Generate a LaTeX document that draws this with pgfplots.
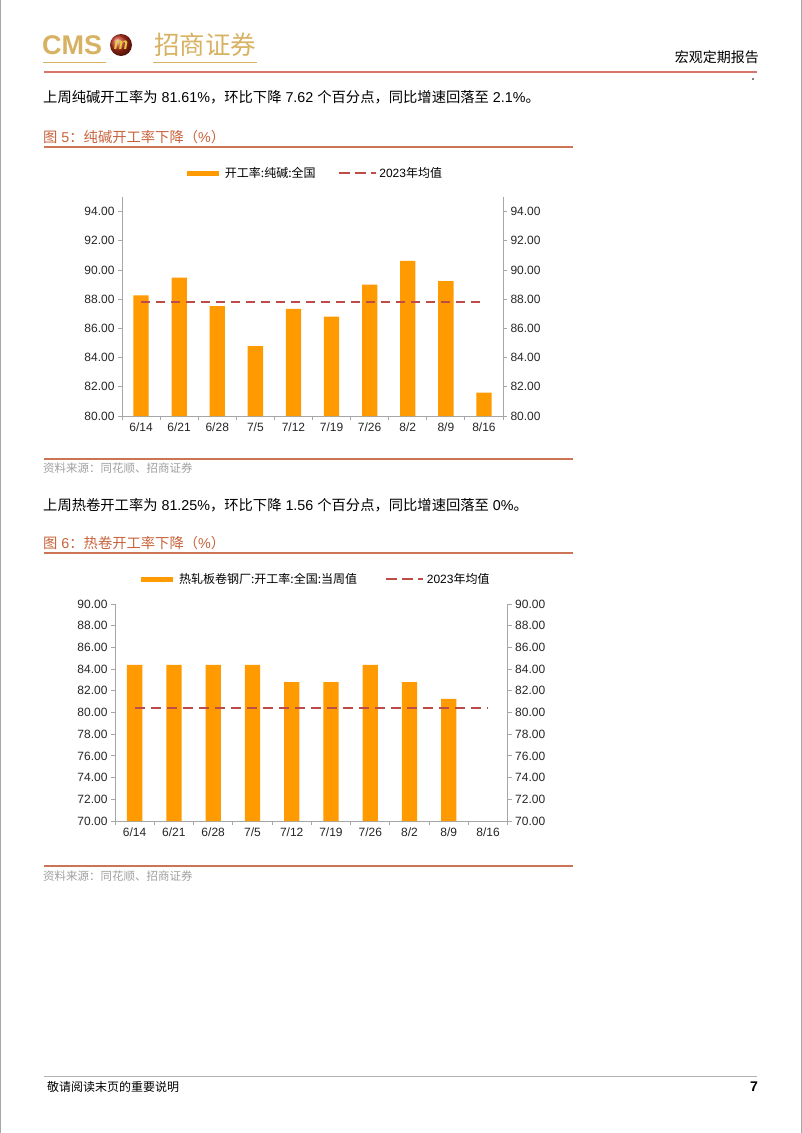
\documentclass[border=0pt]{standalone}
\usepackage{fontspec}
\setmainfont{Liberation Sans}
\newfontfamily\cjk{Noto Sans CJK SC}
\usepackage{pgfplots}
\pgfplotsset{compat=1.18}
\definecolor{barorange}{HTML}{FF9A00}
\definecolor{meanred}{HTML}{BE4B48}
\definecolor{axisgray}{HTML}{A6A6A6}
\definecolor{gold}{HTML}{D8B263}
\definecolor{logored}{HTML}{C0301A}
\definecolor{headred}{HTML}{D8766A}
\definecolor{titlecol}{HTML}{C8643C}
\definecolor{titleline}{HTML}{CC7455}
\definecolor{srcgray}{HTML}{A0A0A0}

\pgfplotsset{
  leftax/.style={
    scale only axis, anchor=south west,
    xmin=-0.5, xmax=9.5,
    axis x line*=bottom, axis y line*=left,
    axis line style={draw=axisgray, line width=0.9pt},
    tick align=outside,
    major tick length=4pt, minor tick length=4pt,
    every tick/.style={draw=axisgray, line width=0.9pt},
    xtick={0,...,9},
    xticklabels={6/14,6/21,6/28,7/5,7/12,7/19,7/26,8/2,8/9,8/16},
    major x tick style={draw=none},
    minor xtick={-0.5,0.5,...,9.5},
    xticklabel style={yshift=1pt},
    ticklabel style={font=\fontsize{12}{14}\selectfont, text=black!85},
    /pgf/number format/assume math mode=true,
    yticklabel style={/pgf/number format/fixed, /pgf/number format/fixed zerofill, /pgf/number format/precision=2},
    legend columns=2,
    legend cell align=left,
    legend style={draw=none, fill=none, at={(0.5,1)}, anchor=center,
      font=\fontsize{12}{14}\selectfont, inner sep=0pt},
  },
  rightax/.style={
    scale only axis, anchor=south west,
    xmin=-0.5, xmax=9.5,
    axis x line=none, axis y line*=right,
    axis line style={draw=axisgray, line width=0.9pt},
    tick align=outside, major tick length=4pt,
    every tick/.style={draw=axisgray, line width=0.9pt},
    ticklabel style={font=\fontsize{12}{14}\selectfont, text=black!85},
    /pgf/number format/assume math mode=true,
    yticklabel style={/pgf/number format/fixed, /pgf/number format/fixed zerofill, /pgf/number format/precision=2},
  },
  barleg/.style={legend image code/.code={\fill[barorange] (0pt,-2.5pt) rectangle (32pt,2.5pt); \path (36pt,0pt);}},
  meanleg/.style={legend image code/.code={\draw[meanred, line width=2.2pt, dash pattern=on 11pt off 5pt] (0pt,0pt) -- (37pt,0pt); \path (37.5pt,0pt);}},
}

\begin{document}
\begin{tikzpicture}[x=1pt,y=1pt]
\path[use as bounding box] (0,0) rectangle (802,-1133);
\fill[white] (0,0) rectangle (802,-1133);
\draw[gray!70, line width=1pt] (0.5,0) -- (0.5,-1133);
\draw[gray!70, line width=1pt] (801.5,0) -- (801.5,-1133);
\coordinate (c1) at (122,-416);
\coordinate (c2) at (115,-821);

% header
\node[anchor=west, text=gold, font=\bfseries\fontsize{27}{28}\selectfont, inner sep=0pt] at (42,-45) {CMS};
\shade[ball color=logored] (121,-45) circle (11);
\node[text=gold!70!yellow, font=\bfseries\itshape\fontsize{16}{16}\selectfont] at (121,-45.5) {m};
\node[anchor=west, text=gold, font=\cjk\fontsize{25.5}{27}\selectfont, inner sep=0pt] at (154,-45) {招商证券};
\draw[gold, line width=1.5pt] (43,-62.5) -- (106,-62.5);
\draw[gold, line width=1.5pt] (153,-62.5) -- (257,-62.5);
\node[anchor=east, font=\cjk\fontsize{14}{16}\selectfont, inner sep=0pt] at (759,-57) {宏观定期报告};
\draw[headred, line width=1.2pt] (44,-72) -- (757,-72);
\fill (753,-79) circle (0.8);

% text 1
\node[anchor=west, font=\fontsize{14.3}{16}\selectfont, inner sep=0pt] at (43,-97) {{\cjk 上周纯碱开工率为} 81.61\%{\cjk ，环比下降} 7.62 {\cjk 个百分点，同比增速回落至} 2.1\%{\cjk 。}};
\node[anchor=west, text=titlecol, font=\fontsize{14.3}{16}\selectfont, inner sep=0pt] at (43,-137) {{\cjk 图} 5{\cjk ：纯碱开工率下降（}\%{\cjk ）}};
\draw[titleline, line width=1.2pt] (44,-147) -- (573,-147);

% chart 1
\begin{axis}[leftax, at={(c1)}, width=381pt, height=219pt,
  ymin=80, ymax=95, ytick={80,82,...,94},
  legend style={yshift=24pt, xshift=3pt, /tikz/every even column/.append style={column sep=20pt}}]
\addplot[ybar, bar width=15.3pt, fill=barorange, draw=none, barleg] coordinates {
(0,88.27) (1,89.47) (2,87.53) (3,84.79) (4,87.33) (5,86.80) (6,89.00) (7,90.62) (8,89.23) (9,81.61)};
\addlegendentry{{\cjk 开工率:纯碱:全国}}
\addplot[sharp plot, no markers, draw=meanred, line width=2.2pt, dash pattern=on 9pt off 6pt, meanleg] coordinates {(0,87.79) (9,87.79)};
\addlegendentry{2023{\cjk 年均值}}
\end{axis}
\begin{axis}[rightax, at={(c1)}, width=381pt, height=219pt,
  ymin=80, ymax=95, ytick={80,82,...,94}]
\addplot[draw=none, forget plot] coordinates {(0,85)};
\end{axis}

\draw[titleline, line width=1.2pt] (44,-459) -- (573,-459);
\node[anchor=west, text=srcgray, font=\cjk\fontsize{11.5}{13}\selectfont, inner sep=0pt] at (43,-468) {资料来源：同花顺、招商证券};

% text 2
\node[anchor=west, font=\fontsize{14.3}{16}\selectfont, inner sep=0pt] at (43,-505) {{\cjk 上周热卷开工率为} 81.25\%{\cjk ，环比下降} 1.56 {\cjk 个百分点，同比增速回落至} 0\%{\cjk 。}};
\node[anchor=west, text=titlecol, font=\fontsize{14.3}{16}\selectfont, inner sep=0pt] at (43,-543) {{\cjk 图} 6{\cjk ：热卷开工率下降（}\%{\cjk ）}};
\draw[titleline, line width=1.2pt] (44,-553) -- (573,-553);

% chart 2
\begin{axis}[leftax, at={(c2)}, width=392.7pt, height=217pt,
  ymin=70, ymax=90, ytick={70,72,...,90},
  legend style={yshift=25pt, xshift=5pt, /tikz/every even column/.append style={column sep=26pt}}]
\addplot[ybar, bar width=15.3pt, fill=barorange, draw=none, barleg] coordinates {
(0,84.38) (1,84.38) (2,84.38) (3,84.38) (4,82.81) (5,82.81) (6,84.38) (7,82.81) (8,81.25)};
\addlegendentry{{\cjk 热轧板卷钢厂:开工率:全国:当周值}}
\addplot[sharp plot, no markers, draw=meanred, line width=2.2pt, dash pattern=on 10pt off 6pt, meanleg] coordinates {(0,80.41) (9,80.41)};
\addlegendentry{2023{\cjk 年均值}}
\end{axis}
\begin{axis}[rightax, at={(c2)}, width=392.7pt, height=217pt,
  ymin=70, ymax=90, ytick={70,72,...,90}]
\addplot[draw=none, forget plot] coordinates {(0,80)};
\end{axis}

\draw[titleline, line width=1.2pt] (44,-866) -- (573,-866);
\node[anchor=west, text=srcgray, font=\cjk\fontsize{11.5}{13}\selectfont, inner sep=0pt] at (43,-876) {资料来源：同花顺、招商证券};

% footer
\draw[gray!60, line width=0.8pt] (44,-1076) -- (757,-1076);
\node[anchor=west, font=\cjk\fontsize{12}{14}\selectfont, inner sep=0pt] at (47,-1087) {敬请阅读末页的重要说明};
\node[anchor=east, font=\bfseries\fontsize{14}{16}\selectfont, inner sep=0pt] at (758,-1087) {7};
\end{tikzpicture}
\end{document}
